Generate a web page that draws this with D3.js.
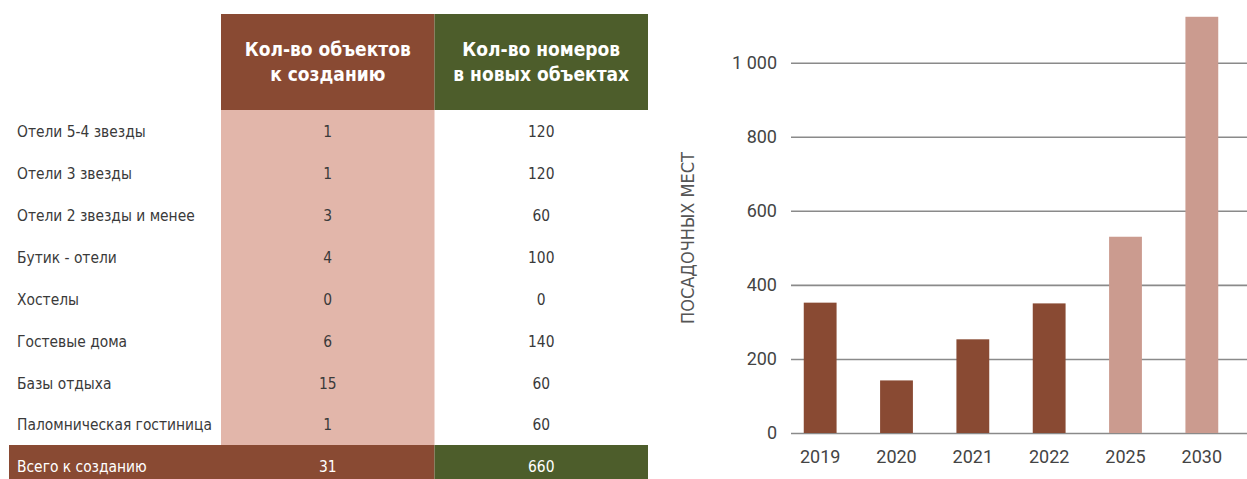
<!DOCTYPE html>
<html>
<head>
<meta charset="utf-8">
<script src="https://cdn.jsdelivr.net/npm/d3@7"></script>
<style>
  body { margin: 0; background: #fff; }
  svg { display: block; }
</style>
</head>
<body>
<svg width="1247" height="479"></svg>
<script>
var svg = d3.select("svg");

// table data
var categories = ["Отели 5-4 звезды", "Отели 3 звезды", "Отели 2 звезды и менее", "Бутик - отели",
                  "Хостелы", "Гостевые дома", "Базы отдыха", "Паломническая гостиница"];
var objects = [1, 1, 3, 4, 0, 6, 15, 1];
var rooms = [120, 120, 60, 100, 0, 140, 60, 60];
var headers = [["Кол-во объектов", "к созданию"], ["Кол-во номеров", "в новых объектах"]];
var totalLabel = "Всего к созданию";

// bar chart data
var years = ["2019", "2020", "2021", "2022", "2025", "2030"];
var seats = [352, 142, 253, 350, 530, 1124];
var forecast = [false, false, false, false, true, true];
var yTicks = [0, 200, 400, 600, 800, 1000];
var yLabel = "ПОСАДОЧНЫХ МЕСТ";

var brown = "#894a33", green = "#4d5d2b", pink = "#e2b6aa", lightBar = "#cb9b8f";
var narrow = "'Liberation Sans Narrow', 'DejaVu Sans Condensed', sans-serif";

// ---------- table ----------
var table = svg.append("g");

var cols = d3.scaleBand().domain([0, 1]).range([221, 648]);
var rows = d3.scaleBand().domain(d3.range(categories.length)).range([110, 445]);
var colColors = [brown, green];

// header cells
table.selectAll(".head")
  .data(headers)
  .enter().append("rect")
  .attr("x", function(d, i) { return cols(i); })
  .attr("y", 14)
  .attr("width", cols.bandwidth())
  .attr("height", 96)
  .attr("fill", function(d, i) { return colColors[i]; });

headers.forEach(function(lines, i) {
  var t = table.append("text")
    .attr("x", cols(i) + cols.bandwidth() / 2)
    .attr("y", 56)
    .attr("text-anchor", "middle")
    .attr("fill", "#fff")
    .attr("font-family", narrow)
    .attr("font-weight", "bold")
    .attr("font-size", 19);
  lines.forEach(function(l, j) {
    t.append("tspan").attr("x", cols(i) + cols.bandwidth() / 2).attr("dy", j ? 25 : 0).text(l);
  });
});

// pink background of the first column
table.append("rect")
  .attr("x", cols(0))
  .attr("y", rows.range()[0])
  .attr("width", cols.bandwidth())
  .attr("height", rows.range()[1] - rows.range()[0])
  .attr("fill", pink);

var row = table.selectAll(".row")
  .data(categories)
  .enter().append("g")
  .attr("class", "row")
  .attr("transform", function(d, i) { return "translate(0," + (rows(i) + rows.bandwidth() / 2 + 1) + ")"; })
  .attr("font-family", narrow)
  .attr("font-size", 15.4)
  .attr("fill", "#3a3a3a");

row.append("text")
  .attr("x", 17)
  .attr("dy", "0.35em")
  .text(function(d) { return d; });

row.append("text")
  .attr("x", cols(0) + cols.bandwidth() / 2)
  .attr("dy", "0.35em")
  .attr("text-anchor", "middle")
  .text(function(d, i) { return objects[i]; });

row.append("text")
  .attr("x", cols(1) + cols.bandwidth() / 2)
  .attr("dy", "0.35em")
  .attr("text-anchor", "middle")
  .text(function(d, i) { return rooms[i]; });

// totals row
var totals = [d3.sum(objects), d3.sum(rooms)];
table.append("rect").attr("x", 9).attr("y", 445).attr("width", cols(1) - 9).attr("height", 44).attr("fill", brown);
table.append("rect").attr("x", cols(1)).attr("y", 445).attr("width", cols.bandwidth()).attr("height", 44).attr("fill", green);

var foot = table.append("g")
  .attr("font-family", narrow)
  .attr("font-size", 15.4)
  .attr("fill", "#fff");
foot.append("text").attr("x", 17).attr("y", 467).attr("dy", "0.35em").text(totalLabel);
foot.selectAll(".tot")
  .data(totals)
  .enter().append("text")
  .attr("x", function(d, i) { return cols(i) + cols.bandwidth() / 2; })
  .attr("y", 467)
  .attr("dy", "0.35em")
  .attr("text-anchor", "middle")
  .text(function(d) { return d; });

// ---------- bar chart ----------
var x = d3.scaleBand().domain(years).range([782, 1240]).paddingInner(0.57).paddingOuter(0.285);
var y = d3.scaleLinear().domain([0, 1000]).range([433, 62.7]);

var fmt = d3.formatLocale({ decimal: ",", thousands: " ", grouping: [3], currency: ["", ""] }).format(",d");

var chart = svg.append("g");

// grid lines + tick labels
var yAxis = chart.append("g")
  .attr("transform", "translate(791,0)")
  .call(d3.axisRight(y).tickValues(yTicks).tickSize(456).tickFormat(fmt));
yAxis.select(".domain").remove();
yAxis.selectAll(".tick line").attr("stroke", "#8a8a8a").attr("stroke-width", 1.6);
yAxis.selectAll(".tick text")
  .attr("x", -14)
  .attr("text-anchor", "end")
  .attr("font-family", "Roboto, sans-serif")
  .attr("font-size", 18)
  .attr("fill", "#444");

chart.selectAll(".bar")
  .data(seats)
  .enter().append("rect")
  .attr("class", "bar")
  .attr("x", function(d, i) { return x(years[i]); })
  .attr("y", function(d) { return y(d); })
  .attr("width", x.bandwidth())
  .attr("height", function(d) { return y(0) - y(d); })
  .attr("fill", function(d, i) { return forecast[i] ? lightBar : brown; });

// x axis labels
var xAxis = chart.append("g")
  .attr("transform", "translate(0," + y(0) + ")")
  .call(d3.axisBottom(x).tickSize(0).tickPadding(17));
xAxis.select(".domain").remove();
xAxis.selectAll("text")
  .attr("font-family", "Roboto, sans-serif")
  .attr("font-size", 18)
  .attr("fill", "#444");

chart.append("text")
  .attr("transform", "translate(694,238) rotate(-90)")
  .attr("text-anchor", "middle")
  .attr("font-family", narrow)
  .attr("font-size", 18)
  .attr("fill", "#555")
  .text(yLabel);
</script>
</body>
</html>
